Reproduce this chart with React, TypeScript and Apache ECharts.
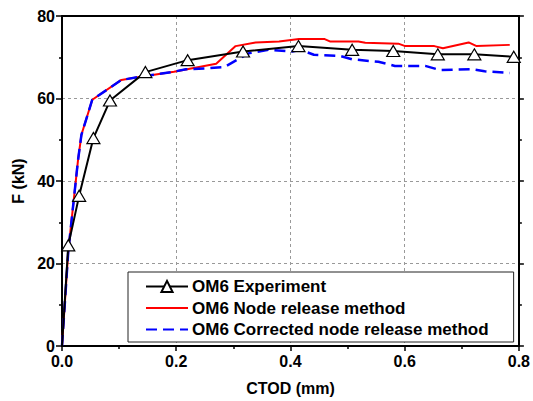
import React, { useEffect, useRef } from "react";
import * as echarts from "echarts";

const expX = [0, 0.011, 0.030, 0.055, 0.084, 0.146, 0.220, 0.317, 0.414, 0.508, 0.580, 0.658, 0.722, 0.791];
const expF = [0, 24.4, 36.4, 50.4, 59.5, 66.4, 69.3, 71.4, 72.7, 71.8, 71.5, 70.7, 70.7, 70.1];

const nodeX = [0, 0.011, 0.028, 0.034, 0.053, 0.104, 0.138, 0.196, 0.270, 0.304, 0.339, 0.380, 0.415, 0.460, 0.470, 0.519, 0.531, 0.589, 0.601, 0.652, 0.667, 0.712, 0.726, 0.784];
const nodeF = [0, 23, 45, 51.2, 59.7, 64.5, 65.3, 66.5, 68.4, 72.7, 73.6, 73.8, 74.4, 74.4, 73.8, 73.8, 73.5, 73.3, 72.7, 72.7, 72.2, 73.6, 72.7, 73.0];

const corrX = [0, 0.011, 0.028, 0.034, 0.053, 0.104, 0.138, 0.196, 0.217, 0.252, 0.284, 0.307, 0.328, 0.362, 0.403, 0.418, 0.441, 0.487, 0.508, 0.554, 0.583, 0.636, 0.662, 0.717, 0.740, 0.784];
const corrF = [0, 23, 45, 51.2, 59.7, 64.5, 65.3, 66.5, 67.1, 67.3, 67.6, 69.4, 71.0, 71.8, 71.4, 71.8, 70.6, 70.3, 69.5, 68.9, 67.9, 67.9, 66.9, 67.1, 66.6, 66.2];

const seriesNames = ["OM6 Experiment", "OM6 Node release method", "OM6 Corrected node release method"];

const zip = (xs: number[], ys: number[]) => xs.map((x, i) => [x, ys[i]]);

const FONT = "Liberation Sans, Arial, sans-serif";

export default function App() {
  const ref = useRef<HTMLDivElement>(null);
  useEffect(() => {
    if (!ref.current) return;
    const chart = echarts.init(ref.current, undefined, { renderer: "svg" });
    const axisLine = { show: true, lineStyle: { color: "#000", width: 2 } };
    const splitLine = { show: true, lineStyle: { color: "#999", width: 1, type: [3, 3] as any } };
    const expData = zip(expX, expF).map((p) =>
      p[0] === 0 && p[1] === 0 ? { value: p, symbol: "none" } : { value: p }
    );
    chart.setOption({
      animation: false,
      backgroundColor: "#fff",
      grid: { left: 62, top: 16, right: 12, bottom: 54, containLabel: false },
      legend: {
        orient: "vertical",
        left: 128,
        top: 272,
        backgroundColor: "#fff",
        borderColor: "#222",
        borderWidth: 1,
        borderRadius: 0,
        padding: [6, 25, 4, 17],
        itemWidth: 42,
        itemHeight: 14,
        itemGap: 4.5,
        data: [
          { name: seriesNames[0] },
          { name: seriesNames[1], itemStyle: { opacity: 0 } },
          { name: seriesNames[2], itemStyle: { opacity: 0 } },
        ],
        textStyle: {
          fontFamily: FONT,
          fontWeight: "bold",
          fontSize: 17,
          lineHeight: 17,
          color: "#000",
          padding: [0, 0, 0, -1],
        },
      },
      xAxis: [
        {
          type: "value",
          min: 0,
          max: 0.8,
          interval: 0.2,
          position: "bottom",
          name: "CTOD (mm)",
          nameLocation: "middle",
          nameGap: 34,
          nameTextStyle: { fontFamily: FONT, fontWeight: "bold", fontSize: 16, color: "#000" },
          axisLine: { ...axisLine, onZero: false },
          axisTick: { show: true, inside: false, length: 5, lineStyle: { color: "#000", width: 1.5 } },
          minorTick: { show: true, splitNumber: 2, length: 3, lineStyle: { color: "#000", width: 1.5 } },
          splitLine,
          axisLabel: {
            margin: 7,
            fontFamily: FONT,
            fontWeight: "bold",
            fontSize: 16,
            color: "#000",
            formatter: (v: number) => v.toFixed(1),
          },
        },
        {
          type: "value",
          min: 0,
          max: 0.8,
          interval: 0.2,
          position: "top",
          axisLine: { ...axisLine, onZero: false },
          axisTick: { show: false },
          axisLabel: { show: false },
          splitLine: { show: false },
        },
      ],
      yAxis: [
        {
          type: "value",
          min: 0,
          max: 80,
          interval: 20,
          position: "left",
          name: "F (kN)",
          nameLocation: "middle",
          nameGap: 34,
          nameTextStyle: { fontFamily: FONT, fontWeight: "bold", fontSize: 16, color: "#000" },
          axisLine: { ...axisLine, onZero: false },
          axisTick: { show: true, inside: false, length: 6, lineStyle: { color: "#000", width: 1.5 } },
          minorTick: { show: true, splitNumber: 2, length: 3, lineStyle: { color: "#000", width: 1.5 } },
          splitLine,
          axisLabel: { margin: 7, fontFamily: FONT, fontWeight: "bold", fontSize: 16, color: "#000" },
        },
        {
          type: "value",
          min: 0,
          max: 80,
          interval: 20,
          position: "right",
          axisLine: { ...axisLine, onZero: false },
          axisTick: { show: true, inside: false, length: 5, lineStyle: { color: "#000", width: 1.5 } },
          minorTick: { show: true, splitNumber: 2, length: 3, lineStyle: { color: "#000", width: 1.5 } },
          axisLabel: { show: false },
          splitLine: { show: false },
        },
      ],
      series: [
        {
          name: seriesNames[0],
          type: "line",
          data: expData,
          z: 3,
          symbol: "triangle",
          symbolSize: [13, 11],
          showAllSymbol: true,
          color: "#000",
          itemStyle: { color: "#fff", borderColor: "#000", borderWidth: 1.2 },
          lineStyle: { color: "#000", width: 2 },
        },
        {
          name: seriesNames[1],
          type: "line",
          data: zip(nodeX, nodeF),
          z: 2,
          symbol: "none",
          color: "#ff0000",
          lineStyle: { color: "#ff0000", width: 2 },
        },
        {
          name: seriesNames[2],
          type: "line",
          data: zip(corrX, corrF),
          z: 2,
          symbol: "none",
          color: "#0000ff",
          lineStyle: { color: "#0000ff", width: 2.5, type: [11, 6] as any },
        },
      ],
    });
    return () => chart.dispose();
  }, []);
  return <div ref={ref} style={{ width: 533, height: 401, position: "absolute", left: 0, top: 0 }} />;
}
